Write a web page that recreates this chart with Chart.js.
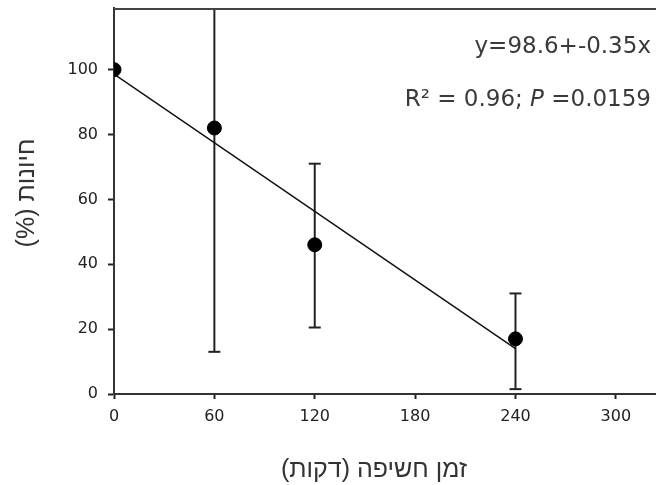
<!DOCTYPE html>
<html lang="he">
<head>
    <meta charset="UTF-8">
    <title>חיונות לאורך זמן חשיפה</title>
    <script src="https://cdn.jsdelivr.net/npm/chart.js"></script>
    <style>
        body {
            margin: 0;
            background: #ffffff;
        }
        .chart-container {
            position: relative;
            width: 656px;
            height: 485px;
        }
    </style>
</head>
<body>
    <div class="chart-container">
        <canvas id="viabilityChart" width="656" height="485"></canvas>
    </div>

    <script>
        // Data
        const exposureMin = [0, 60, 120, 240];
        const viability = [100, 82, 46, 17];
        const errLow = [null, 13, 20.5, 1.5];
        const errHigh = [null, 151, 71, 31];

        // Regression line endpoints
        const fitX = [0, 240];
        const fitY = [98.6, 14];

        const xTicks = [0, 60, 120, 180, 240, 300];
        const yTicks = [0, 20, 40, 60, 80, 100];

        const eqText = 'y=98.6+-0.35x';
        const statsText = ['R\u00B2 = 0.96; ', 'P', ' =0.0159'];

        const xTitle = 'זמן חשיפה (דקות)';
        const yTitle = 'חיונות (%)';

        const ink = '#222';
        const tickFont = { family: '"DejaVu Sans", sans-serif', size: 16 };

        // Error bars: one small line dataset per point, caps via pointStyle 'line'
        const errorSets = exposureMin
            .map((x, i) => ({ x, lo: errLow[i], hi: errHigh[i] }))
            .filter(e => e.lo !== null)
            .map(e => ({
                type: 'line',
                data: [{ x: e.x, y: e.lo }, { x: e.x, y: e.hi }],
                borderColor: ink,
                borderWidth: 2,
                pointStyle: 'line',
                pointRadius: 6,
                pointBorderWidth: 2,
                pointBorderColor: ink,
                pointHoverRadius: 6,
                order: 2
            }));

        // Top frame line, axis titles (Hebrew, rtl) and regression text
        const frameAndText = {
            id: 'frameAndText',
            afterDraw(chart) {
                const { ctx, chartArea } = chart;
                ctx.save();
                ctx.strokeStyle = '#444';
                ctx.lineWidth = 2;
                ctx.beginPath();
                ctx.moveTo(chartArea.left, chartArea.top + 1);
                ctx.lineTo(chartArea.right, chartArea.top + 1);
                ctx.stroke();

                // axis titles
                ctx.fillStyle = '#333';
                ctx.font = '25px "Liberation Sans", Arial, sans-serif';
                ctx.direction = 'rtl';
                ctx.textAlign = 'center';
                ctx.textBaseline = 'middle';
                ctx.fillText(xTitle, 374, 470);
                ctx.save();
                ctx.translate(27, 193);
                ctx.rotate(-Math.PI / 2);
                ctx.fillText(yTitle, 0, 0);
                ctx.restore();

                // regression equation
                ctx.direction = 'ltr';
                ctx.fillStyle = '#3a3a3a';
                ctx.textBaseline = 'alphabetic';
                ctx.textAlign = 'right';
                const normal = '23px "DejaVu Sans", sans-serif';
                const italic = 'italic 23px "DejaVu Sans", sans-serif';
                ctx.font = normal;
                ctx.fillText(eqText, 651, 53);

                // second line, drawn right to left so P can be italic
                let xr = 651;
                ctx.font = normal;
                ctx.fillText(statsText[2], xr, 106);
                xr -= ctx.measureText(statsText[2]).width;
                ctx.font = italic;
                ctx.fillText(statsText[1], xr, 106);
                xr -= ctx.measureText(statsText[1]).width;
                ctx.font = normal;
                ctx.fillText(statsText[0], xr, 106);
                ctx.restore();
            }
        };

        const ctx = document.getElementById('viabilityChart').getContext('2d');
        const chart = new Chart(ctx, {
            type: 'scatter',
            data: {
                datasets: [
                    {
                        label: 'חיונות',
                        data: exposureMin.map((x, i) => ({ x, y: viability[i] })),
                        backgroundColor: '#000',
                        borderColor: '#000',
                        pointRadius: 7,
                        pointHoverRadius: 7,
                        order: 0
                    },
                    {
                        type: 'line',
                        label: 'fit',
                        data: fitX.map((x, i) => ({ x, y: fitY[i] })),
                        borderColor: '#111',
                        borderWidth: 1.5,
                        pointRadius: 0,
                        order: 1
                    },
                    ...errorSets
                ]
            },
            options: {
                responsive: false,
                animation: false,
                layout: { autoPadding: false, padding: { top: 8, right: 0, bottom: 0, left: 0 } },
                plugins: {
                    legend: { display: false },
                    tooltip: { enabled: false }
                },
                scales: {
                    x: {
                        type: 'linear',
                        min: 0,
                        max: 324,
                        afterBuildTicks: s => { s.ticks = xTicks.map(v => ({ value: v })); },
                        afterFit: s => { s.height = 91; s.paddingLeft = 0; s.paddingRight = 0; },
                        ticks: { font: tickFont, color: ink, padding: 8, maxRotation: 0, autoSkip: false },
                        grid: { drawOnChartArea: false, tickLength: 5, tickColor: ink, tickWidth: 2 },
                        border: { color: '#333', width: 2 },
                        title: { display: false }
                    },
                    y: {
                        min: 0,
                        max: 119,
                        afterBuildTicks: s => { s.ticks = yTicks.map(v => ({ value: v })); },
                        afterFit: s => { s.width = 114; s.paddingTop = 0; s.paddingBottom = 0; },
                        ticks: { font: tickFont, color: ink, padding: 10, autoSkip: false },
                        grid: { drawOnChartArea: false, tickLength: 6, tickColor: ink, tickWidth: 2 },
                        border: { color: '#333', width: 2 },
                        title: { display: false }
                    }
                }
            },
            plugins: [frameAndText]
        });
    </script>
</body>
</html>
